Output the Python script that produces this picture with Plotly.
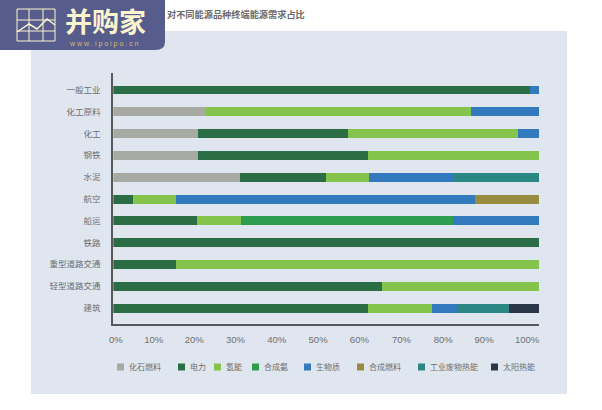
import plotly.graph_objects as go

# data
categories = ['一般工业', '化工原料', '化工', '钢铁', '水泥', '航空', '船运', '铁路',
              '重型道路交通', '轻型道路交通', '建筑']
fossil = [0, 21.7, 19.8, 19.9, 29.8, 0, 0, 0, 0, 0, 0]
electricity = [97.9, 0, 35.3, 40.0, 20.1, 4.7, 19.7, 100, 14.7, 63.2, 59.8]
hydrogen = [0, 62.3, 40.0, 40.1, 10.1, 10.1, 10.2, 0, 85.3, 36.8, 15.1]
ammonia = [0, 0, 0, 0, 0, 0, 50.0, 0, 0, 0, 0]
biomass = [2.1, 16.0, 4.9, 0, 19.9, 70.2, 20.1, 0, 0, 0, 6.1]
synfuel = [0, 0, 0, 0, 0, 15.0, 0, 0, 0, 0, 0]
waste_heat = [0, 0, 0, 0, 20.1, 0, 0, 0, 0, 0, 12.0]
solar = [0, 0, 0, 0, 0, 0, 0, 0, 0, 0, 7.0]

# the tick labels in the source sit slightly off the bar scale
tick_positions = [0.6, 9.5, 19.0, 28.7, 38.4, 48.1, 57.8, 67.7, 77.5, 87.1, 97.2]
tick_labels = ['0%', '10%', '20%', '30%', '40%', '50%', '60%', '70%', '80%', '90%', '100%']

series = [
    ('化石燃料', fossil, '#A7AAA3'),
    ('电力', electricity, '#2B6E45'),
    ('氢能', hydrogen, '#85C44C'),
    ('合成氨', ammonia, '#2F9C50'),
    ('生物质', biomass, '#3379BD'),
    ('合成燃料', synfuel, '#998C3E'),
    ('工业废物热能', waste_heat, '#2A8784'),
    ('太阳热能', solar, '#2A374B'),
]
legend_x = [117, 178, 214, 252, 304, 357, 418, 491]

W, H = 602, 410
FONT = 'Noto Sans CJK SC'
GREY = '#6E6E6E'
CREAM = '#FBF5CF'


def px_x(v):
    return v / W


def px_y(v):
    return 1 - v / H


def main():
    fig = go.Figure()
    for name, values, color in series:
        fig.add_trace(go.Bar(y=categories, x=values, name=name, orientation='h',
                             marker=dict(color=color, line=dict(width=0)),
                             showlegend=False))

    shapes = [dict(type='rect', xref='paper', yref='paper', layer='below',
                   x0=px_x(31), x1=px_x(567), y0=px_y(31), y1=px_y(394),
                   fillcolor='#E0E6F0', line=dict(width=0))]
    annotations = []

    # legend, spaced unevenly as in the source
    for (name, values, color), lx in zip(series, legend_x):
        shapes.append(dict(type='rect', xref='paper', yref='paper',
                           x0=px_x(lx), x1=px_x(lx + 7), y0=px_y(363.5), y1=px_y(370.5),
                           fillcolor=color, line=dict(width=0)))
        annotations.append(dict(text=name, xref='paper', yref='paper', showarrow=False,
                                x=px_x(lx + 10), y=px_y(366.5), xanchor='left', yanchor='middle',
                                font=dict(family=FONT, size=8, color=GREY)))

    # logo badge
    shapes.append(dict(type='path', xref='paper', yref='paper', layer='above',
                       path=f'M {px_x(0)},{px_y(0)} L {px_x(165)},{px_y(0)} L {px_x(165)},{px_y(42)} '
                            f'Q {px_x(165)},{px_y(50)} {px_x(155)},{px_y(50)} L {px_x(0)},{px_y(50)} Z',
                       fillcolor='#565C8C', line=dict(width=0)))
    for gx in [17, 29, 43, 55]:
        shapes.append(dict(type='line', xref='paper', yref='paper', layer='above',
                           x0=px_x(gx), x1=px_x(gx), y0=px_y(9), y1=px_y(41),
                           line=dict(color=CREAM, width=1)))
    for gy in [9, 20, 31, 41]:
        shapes.append(dict(type='line', xref='paper', yref='paper', layer='above',
                           x0=px_x(17), x1=px_x(55), y0=px_y(gy), y1=px_y(gy),
                           line=dict(color=CREAM, width=1)))
    shapes.append(dict(type='path', xref='paper', yref='paper', layer='above',
                       path=f'M {px_x(17)},{px_y(32)} L {px_x(29)},{px_y(24)} L {px_x(37)},{px_y(29)} '
                            f'L {px_x(47)},{px_y(19)} L {px_x(55)},{px_y(25)}',
                       line=dict(color=CREAM, width=1.5)))

    annotations += [
        dict(text='<b>并购家</b>', xref='paper', yref='paper', showarrow=False,
             x=px_x(105), y=px_y(20), xanchor='center', yanchor='middle',
             font=dict(family=FONT, size=27, color=CREAM)),
        dict(text='w w w . i p o i p o . c n', xref='paper', yref='paper', showarrow=False,
             x=px_x(104), y=px_y(44), xanchor='center', yanchor='middle',
             font=dict(family='Liberation Sans', size=7, color='#D8B878')),
        dict(text='<b>对不同能源品种终端能源需求占比</b>', xref='paper', yref='paper', showarrow=False,
             x=px_x(165), y=px_y(14), xanchor='left', yanchor='middle',
             font=dict(family=FONT, size=9.2, color='#6A6A6A')),
    ]

    fig.update_layout(
        width=W, height=H,
        barmode='stack',
        bargap=0.59,
        margin=dict(l=0, r=0, t=0, b=0),
        paper_bgcolor='white',
        plot_bgcolor='rgba(0,0,0,0)',
        shapes=shapes,
        annotations=annotations,
        xaxis=dict(
            domain=[px_x(113.3), px_x(539)],
            range=[0, 100],
            automargin=False,
            tickmode='array',
            tickvals=tick_positions,
            ticktext=tick_labels,
            ticks='',
            showgrid=False,
            zeroline=False,
            showline=True,
            linecolor='#58595B',
            linewidth=1.5,
            ticklabelstandoff=6,
            tickfont=dict(family='Liberation Sans', size=9.5, color=GREY),
        ),
        yaxis=dict(
            domain=[px_y(324), px_y(73)],
            range=[10.73, -0.78],
            type='category',
            automargin=False,
            ticks='',
            showgrid=False,
            zeroline=False,
            showline=True,
            linecolor='#58595B',
            linewidth=2,
            ticklabelstandoff=9,
            tickfont=dict(family=FONT, size=8.5, color=GREY),
        ),
    )
    fig.write_html('out.html', config=dict(displayModeBar=False),
                   post_script="document.body.style.margin='0';")


if __name__ == "__main__":
    main()
